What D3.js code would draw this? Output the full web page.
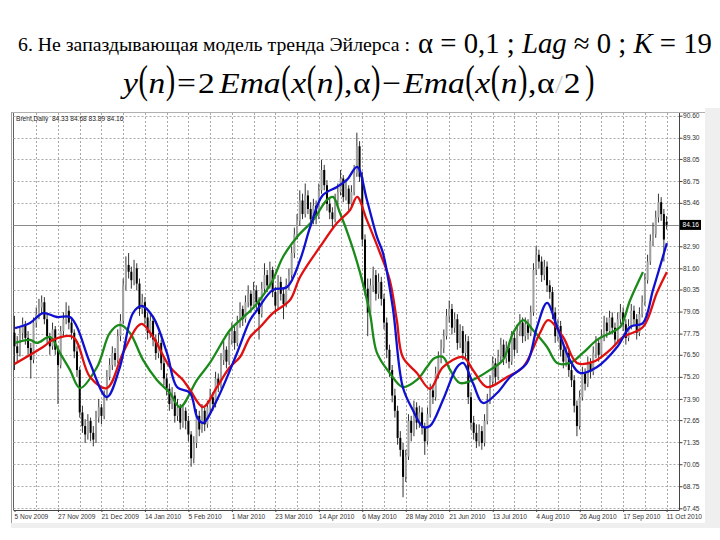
<!DOCTYPE html>
<html><head><meta charset="utf-8">
<script src="https://cdn.jsdelivr.net/npm/d3@7"></script>
<style>body{margin:0;background:#fff}svg{display:block}</style>
</head><body>
<svg id="c" width="720" height="540"></svg>
<script>
// ---------- DATA ----------
const chartLabel = "Brent,Daily  84.33 84.68 83.89 84.16";
const lastPrice = 84.16;
const priceTicks = [90.60, 89.30, 88.05, 86.75, 85.46, 82.90, 81.60, 80.35, 79.05, 77.75, 76.50, 75.20, 73.90, 72.65, 71.35, 70.05, 68.75, 67.45];
const dateLabels = ["5 Nov 2009","27 Nov 2009","21 Dec 2009","14 Jan 2010","5 Feb 2010","1 Mar 2010","23 Mar 2010","14 Apr 2010","6 May 2010","28 May 2010","21 Jun 2010","13 Jul 2010","4 Aug 2010","26 Aug 2010","17 Sep 2010","11 Oct 2010"];
const dateBars = [0,16,32,48,64,80,96,112,128,144,160,176,192,208,224,240];
// daily bars: [open, high, low, close]
const ohlc = [
[77.8,78.8,75.6,77.0],[77.0,77.6,76.1,76.6],[76.6,78.1,76.4,77.8],[77.8,78.7,77.4,78.3],[78.3,78.5,77.1,77.5],
[77.5,77.9,76.5,76.9],[76.9,77.2,75.1,76.2],[76.2,78.7,76.0,78.4],[78.4,79.3,78.1,78.9],[78.9,79.8,78.6,79.3],
[79.3,80.0,78.9,79.6],[79.6,79.9,78.3,78.6],[78.6,78.9,77.2,77.6],[77.6,77.8,76.5,77.0],[77.0,78.4,76.8,78.0],
[78.0,78.2,76.5,76.8],[76.8,77.0,73.6,75.9],[75.9,78.2,75.7,77.9],[77.9,79.0,77.6,78.6],[78.6,79.6,78.3,79.1],
[79.1,79.4,78.0,78.4],[78.4,78.7,77.4,77.8],[77.8,78.0,76.3,76.7],[76.7,77.0,75.2,75.6],[75.6,75.8,72.8,73.1],
[73.1,73.5,71.9,72.3],[72.3,72.7,71.3,71.8],[71.8,73.0,71.5,72.6],[72.6,72.8,71.4,71.9],[71.9,72.3,71.1,71.5],
[71.5,73.2,71.3,72.8],[72.8,73.9,72.5,73.4],[73.4,73.6,72.4,72.9],[72.9,74.4,72.7,74.0],[74.0,75.6,73.8,75.2],
[75.2,76.3,75.0,75.9],[75.9,77.0,75.6,76.6],[76.6,76.9,75.8,76.2],[76.2,78.0,76.0,77.6],[77.6,78.9,77.3,78.5],
[78.5,81.0,78.3,80.6],[80.6,82.3,80.3,81.8],[81.8,82.5,81.0,81.4],[81.4,81.7,80.4,80.9],[80.9,82.1,80.6,81.6],
[81.6,81.9,80.3,80.7],[80.7,81.0,78.8,79.2],[79.2,80.1,78.9,79.6],[79.6,79.9,78.3,78.7],[78.7,79.0,77.4,77.8],
[77.8,79.0,77.5,78.5],[78.5,78.8,77.0,77.4],[77.4,77.7,76.2,76.6],[76.6,77.8,76.3,77.2],[77.2,77.4,75.6,76.0],
[76.0,76.3,74.7,75.1],[75.1,75.4,74.1,74.5],[74.5,74.8,73.2,73.6],[73.6,74.6,73.3,74.1],[74.1,74.3,72.5,72.9],
[72.9,73.9,72.6,73.4],[73.4,73.6,72.1,72.5],[72.5,73.6,72.2,73.2],[73.2,73.4,72.1,72.6],[72.6,72.9,71.4,71.8],
[71.8,72.0,69.9,70.4],[70.4,71.7,70.1,71.3],[71.3,73.3,71.0,72.9],[72.9,73.2,71.7,72.1],[72.1,73.6,71.9,73.2],
[73.2,73.4,72.0,72.4],[72.4,73.8,72.2,73.4],[73.4,74.5,73.1,74.0],[74.0,74.3,73.2,73.6],[73.6,75.5,73.4,75.1],
[75.1,75.4,74.3,74.7],[74.7,76.6,74.5,76.2],[76.2,77.3,75.9,76.8],[76.8,77.0,75.7,76.1],[76.1,77.8,75.9,77.4],
[77.4,78.4,77.1,77.9],[77.9,78.2,76.8,77.2],[77.2,78.8,77.0,78.4],[78.4,79.6,78.1,79.2],[79.2,79.4,78.2,78.6],
[78.6,80.0,78.4,79.6],[79.6,80.6,79.3,80.1],[80.1,80.3,79.0,79.4],[79.4,80.8,79.2,80.3],[80.3,80.6,79.2,79.6],
[79.6,79.9,77.4,78.9],[78.9,80.8,78.7,80.4],[80.4,81.9,80.1,81.2],[81.2,81.5,80.2,80.6],[80.6,82.0,80.4,81.5],
[81.5,81.7,79.9,80.2],[80.2,80.5,78.9,79.4],[79.4,81.2,79.2,80.8],[80.8,81.1,79.7,80.1],[80.1,80.4,78.6,79.5],
[79.5,81.0,79.3,80.6],[80.6,81.6,80.3,81.2],[81.2,82.9,81.0,82.5],[82.5,84.0,82.2,83.6],[83.6,84.8,83.3,84.4],
[84.4,86.2,84.1,85.6],[85.6,86.0,84.5,84.8],[84.8,86.6,84.6,85.9],[85.9,86.2,84.8,85.1],[85.1,85.5,84.1,84.5],
[84.5,85.7,84.2,85.3],[85.3,85.6,84.2,84.7],[84.7,86.6,84.5,86.2],[86.2,88.0,86.0,87.4],[87.4,87.7,86.2,86.5],
[86.5,86.8,85.0,85.4],[85.4,85.7,84.5,84.9],[84.9,85.2,84.0,84.5],[84.5,86.0,84.3,85.6],[85.6,86.6,85.3,86.1],
[86.1,87.4,85.9,86.9],[86.9,87.1,85.5,85.8],[85.8,86.8,85.6,86.3],[86.3,86.5,85.0,85.4],[85.4,86.5,85.2,86.1],
[86.1,87.7,85.9,87.2],[87.2,89.6,87.0,88.8],[88.8,89.1,86.7,87.0],[87.0,87.3,82.9,83.3],[83.3,83.6,80.0,80.4],
[80.4,81.0,77.6,79.0],[79.0,81.0,78.8,80.6],[80.6,81.7,80.2,81.2],[81.2,81.5,79.7,80.1],[80.1,81.3,79.8,80.8],
[80.8,81.1,79.4,79.8],[79.8,80.1,78.0,78.4],[78.4,78.7,76.3,76.8],[76.8,77.1,75.2,75.6],[75.6,75.9,73.7,74.1],
[74.1,74.5,72.8,73.2],[73.2,73.5,71.2,71.6],[71.6,72.0,70.5,70.9],[70.9,71.3,68.1,69.3],[69.3,70.9,69.0,70.5],
[70.5,73.0,70.3,72.6],[72.6,72.9,71.4,71.9],[71.9,73.8,71.7,73.4],[73.4,73.7,72.1,72.5],[72.5,73.5,72.2,73.1],
[73.1,73.4,71.8,72.2],[72.2,72.5,70.6,71.4],[71.4,73.4,71.2,73.0],[73.0,74.8,72.8,74.4],[74.4,74.7,73.6,74.0],
[74.0,75.8,73.8,75.4],[75.4,76.7,75.1,76.3],[76.3,77.4,76.0,76.9],[76.9,78.0,76.6,77.6],[77.6,79.2,77.4,78.8],
[78.8,79.7,78.4,79.2],[79.2,79.5,77.7,78.1],[78.1,79.0,77.8,78.6],[78.6,78.9,76.8,77.2],[77.2,78.3,76.9,77.9],
[77.9,78.2,76.2,76.6],[76.6,77.7,76.3,77.3],[77.3,77.6,73.6,74.0],[74.0,74.3,72.1,72.5],[72.5,72.9,71.5,71.9],
[71.9,72.4,71.0,71.4],[71.4,72.4,71.1,72.0],[72.0,72.3,70.9,71.3],[71.3,73.0,71.1,72.6],[72.6,74.2,72.4,73.8],
[73.8,75.3,73.6,74.9],[74.9,76.4,74.7,76.0],[76.0,76.3,74.8,75.2],[75.2,76.8,75.0,76.4],[76.4,77.5,76.1,77.1],
[77.1,77.4,75.9,76.3],[76.3,77.3,76.0,76.9],[76.9,77.2,75.7,76.1],[76.1,77.9,75.9,77.5],[77.5,77.8,76.4,76.8],
[76.8,78.3,76.6,77.9],[77.9,78.9,77.6,78.4],[78.4,78.7,77.2,77.6],[77.6,78.7,77.3,78.3],[78.3,78.6,77.4,77.8],
[77.8,79.4,77.6,79.0],[79.0,81.9,78.8,81.5],[81.5,82.9,81.2,82.4],[82.4,82.7,81.6,82.0],[82.0,82.3,80.8,81.2],
[81.2,82.1,80.9,81.7],[81.7,82.0,80.2,80.6],[80.6,80.9,79.8,80.2],[80.2,80.5,78.6,79.0],[79.0,79.3,77.2,77.6],
[77.6,78.6,77.3,78.2],[78.2,78.5,76.4,76.8],[76.8,77.1,75.7,76.1],[76.1,77.0,75.8,76.6],[76.6,76.9,75.2,75.6],
[75.6,75.9,74.6,75.0],[75.0,75.3,73.1,73.5],[73.5,73.8,71.7,72.3],[72.3,74.4,72.1,74.0],[74.0,75.8,73.8,75.4],
[75.4,75.7,74.4,74.8],[74.8,76.4,74.6,76.0],[76.0,76.3,75.1,75.5],[75.5,77.0,75.3,76.6],[76.6,77.6,76.3,77.2],
[77.2,77.5,76.1,76.5],[76.5,78.0,76.3,77.6],[77.6,78.8,77.3,78.4],[78.4,78.7,77.5,77.9],[77.9,79.1,77.7,78.7],
[78.7,79.0,77.7,78.1],[78.1,78.4,77.0,77.4],[77.4,79.0,77.2,78.6],[78.6,79.5,78.3,79.0],[79.0,79.3,77.9,78.3],
[78.3,78.6,77.1,77.5],[77.5,78.6,77.3,78.2],[78.2,79.5,78.0,79.1],[79.1,79.4,78.2,78.6],[78.6,78.9,77.4,77.8],
[77.8,79.3,77.6,78.9],[78.9,80.0,78.7,79.6],[79.6,81.3,79.4,80.9],[80.9,82.4,80.7,82.0],[82.0,83.6,81.8,83.2],
[83.2,84.3,82.9,83.6],[83.6,85.0,83.4,84.6],[84.6,86.0,84.3,85.5],[85.5,85.8,84.4,84.8],[84.8,85.1,82.0,83.3],
[84.33,84.68,83.89,84.16]
];
// indicator lines: [bar index, value]
const redLine = [[0,75.96],[10.5,76.96],[14.2,77.38],[21.5,77.55],[27.8,75.19],[34,74.54],[39.9,76.61],[45.1,78.14],[46.9,78.32],[51,77.55],[57.2,75.78],[62,75.02],[64.6,74.43],[69.4,73.42],[74.5,74.60],[79.3,75.78],[83,76.37],[86.7,77.55],[90.4,78.14],[95.1,78.96],[101.4,79.73],[105.1,81.09],[112.4,82.86],[118.7,84.27],[123.5,85.04],[126.1,85.81],[129.7,84.44],[134.5,82.51],[138.1,80.91],[140.7,78.55],[142.9,76.37],[148.1,75.43],[152.9,74.50],[157.7,75.78],[165.1,76.37],[168.7,75.61],[173.9,74.60],[181.3,75.19],[187.2,75.78],[193.4,77.79],[196.4,78.55],[201.9,77.55],[207,76.02],[212.9,76.08],[219.2,76.79],[224,77.55],[231.3,78.14],[236.4,80.15],[240.1,81.38]];
const blueLine = [[0.2,78.08],[5.7,78.38],[10.5,78.96],[15.6,78.73],[20.4,78.73],[23,78.14],[27.8,76.02],[34,74.01],[38.8,75.78],[43.6,78.96],[46.9,79.38],[51,78.73],[56.1,76.61],[59.8,74.60],[64.6,74.25],[67.2,72.83],[69.4,72.48],[74.5,73.84],[81.9,76.61],[86.7,78.55],[89.3,79.14],[95.1,80.33],[100.3,80.50],[105.1,82.09],[108.8,84.03],[113.5,85.92],[118.7,86.40],[122.4,86.83],[126.1,87.58],[129.7,85.63],[133.4,83.45],[135.6,82.51],[139.2,79.32],[142.9,74.60],[146.6,73.25],[150.4,72.25],[152.9,72.30],[157.7,73.84],[162.9,75.78],[165.1,76.02],[168.7,74.84],[172.4,73.66],[177.6,74.25],[182.4,75.19],[188.6,76.02],[192.3,78.14],[196,79.56],[199.7,78.14],[204.4,76.20],[208.1,75.43],[214.4,75.78],[221.8,76.96],[226.6,78.14],[231.3,78.38],[235,80.33],[238.6,82.27],[240.1,83.09]];
const greenLine = [[0.2,77.20],[5.7,77.38],[8.3,77.20],[13.1,77.55],[16.7,76.61],[20.4,75.61],[24.1,74.54],[30.4,75.78],[35.1,77.79],[38.8,78.26],[42.5,77.79],[47.3,76.20],[52.4,75.02],[57.2,74.25],[60.9,73.42],[67.2,75.02],[71.9,76.02],[79.3,77.96],[83,78.55],[87.8,79.26],[92.9,80.33],[95.1,80.91],[98.8,82.27],[104,83.45],[109.9,84.44],[115,85.63],[117.2,85.81],[119.8,84.86],[123.5,83.27],[127.2,81.33],[130.8,78.96],[133.4,76.61],[138.1,75.43],[142.9,74.60],[148.1,75.02],[151.8,75.78],[154.5,76.30],[157.7,76.37],[160.3,75.61],[163.9,74.84],[168.7,75.02],[175,75.61],[179.8,76.20],[183.5,77.79],[187.2,78.55],[190.8,77.96],[196,76.96],[199.7,76.02],[204.4,76.02],[209.2,76.61],[214.4,77.38],[219.2,77.79],[222.9,78.14],[226.6,79.73],[231.3,81.38]];

// ---------- DRAW ----------
const SERIF = "'Liberation Serif', 'Times New Roman', serif";
const SANS = "'Liberation Sans', Arial, sans-serif";
const svg = d3.select("#c");
const plot = {left: 13.5, right: 679.5, top: 113, bottom: 510};
const x = d3.scaleLinear().domain([0, 240]).range([14.5, 666.6]);
const y = d3.scaleLinear().domain([67.45, 90.60]).range([508.3, 115.7]);

// title line 1
svg.append("text").attr("x", 18).attr("y", 51)
  .attr("font-family", SERIF).attr("font-size", 19)
  .attr("textLength", 392).attr("lengthAdjust", "spacingAndGlyphs")
  .text("6. Не запаздывающая модель тренда Эйлерса :");
const f1 = svg.append("text").attr("x", 418).attr("y", 53)
  .attr("font-family", SERIF).attr("font-size", 29)
  .attr("textLength", 294).attr("lengthAdjust", "spacingAndGlyphs");
[["α = 0,1 ; ",""],["Lag","italic"],[" ≈ 0 ; ",""],["K","italic"],[" = 19",""]].forEach(([s,st])=>{
  f1.append("tspan").attr("font-style", st||null).text(s);
});

// title line 2 (formula), laid out piece by piece
const pieces = [["y","i"],["(","p"],["n","i"],[")","p"],["=",""],["2",""],["Ema","i"],["(","p"],["x","i"],["(","p"],["n","i"],[")","p"],[",",""],["α",""],[")","p"],["−",""],["Ema","i"],["(","p"],["x","i"],["(","p"],["n","i"],[")","p"],[",",""],["α",""],["/","s"],["2",""],[")","p"]];
const gaps = {"=":3, "2":4, "−":3};
const g2 = svg.append("g");
let cx = 0;
pieces.forEach(([s, k]) => {
  const t = g2.append("text").attr("y", 93).attr("font-family", SERIF).text(s);
  let w;
  if (k === "p") {
    t.attr("font-size", 41).attr("transform", `translate(${cx},0) scale(0.62,1)`);
    w = t.node().getComputedTextLength() * 0.62;
  } else {
    t.attr("font-size", k === "s" ? 26 : 30).attr("x", cx);
    if (k === "i") t.attr("font-style", "italic");
    if (k === "s") t.attr("fill", "#c8c8c8");
    w = t.node().getComputedTextLength();
  }
  cx += w + (gaps[s] || 0.5);
  if (s === "=" || s === "−") { t.attr("x", cx - w - gaps[s] + 1); }
});
g2.attr("transform", `translate(123,0) scale(${472 / cx},1)`);

// chart window
svg.append("rect").attr("x", 705).attr("y", 108).attr("width", 15).attr("height", 420).attr("fill", "#efefef");
svg.append("rect").attr("x", 11).attr("y", 523).attr("width", 709).attr("height", 5).attr("fill", "#efefef");
svg.append("line").attr("x1", 11).attr("x2", 705).attr("y1", 112.5).attr("y2", 112.5).attr("stroke", "#b0b0b0");
svg.append("line").attr("x1", 11.5).attr("x2", 11.5).attr("y1", 112).attr("y2", 523).attr("stroke", "#a0a0a0");
svg.append("line").attr("x1", 13.5).attr("x2", 13.5).attr("y1", 113).attr("y2", plot.bottom).attr("stroke", "#606060");

// grid
const grid = svg.append("g").attr("stroke", "#a8a8a8").attr("stroke-dasharray", "2,2").attr("stroke-width", 1);
priceTicks.forEach(p => grid.append("line").attr("x1", plot.left).attr("x2", plot.right)
  .attr("y1", Math.round(y(p)) + 0.5).attr("y2", Math.round(y(p)) + 0.5));
d3.range(8, 241, 8).forEach(b => grid.append("line").attr("y1", plot.top).attr("y2", plot.bottom)
  .attr("x1", Math.round(x(b)) + 0.5).attr("x2", Math.round(x(b)) + 0.5));
// bid line
svg.append("line").attr("x1", plot.left).attr("x2", plot.right)
  .attr("y1", Math.round(y(lastPrice)) + 0.5).attr("y2", Math.round(y(lastPrice)) + 0.5)
  .attr("stroke", "#8a8a8a");

// candles
const bars = svg.append("g");
ohlc.forEach((d, i) => {
  const [o, h, l, c] = d;
  const bx = x(i);
  bars.append("line").attr("x1", bx).attr("x2", bx).attr("y1", y(h)).attr("y2", y(l))
    .attr("stroke", "#333").attr("stroke-width", 1);
  const top = y(Math.max(o, c)), bot = y(Math.min(o, c));
  bars.append("rect").attr("x", bx - 1).attr("width", 2)
    .attr("y", top).attr("height", Math.max(1, bot - top))
    .attr("fill", c >= o ? "#a0a0a0" : "#000");
});

// indicator lines
const lineGen = d3.line().x(d => x(d[0])).y(d => y(d[1])).curve(d3.curveCatmullRom.alpha(0.5));
[[greenLine, "#1b8a1b"], [redLine, "#e01010"], [blueLine, "#1010d0"]].forEach(([data, col]) => {
  svg.append("path").attr("d", lineGen(data)).attr("fill", "none")
    .attr("stroke", col).attr("stroke-width", 2.3).attr("stroke-linejoin", "round");
});

// chart label
svg.append("text").attr("x", 16).attr("y", 121).attr("font-family", SANS)
  .attr("font-size", 6.6).attr("fill", "#222").style("white-space", "pre").text(chartLabel);

// frame lines
svg.append("line").attr("x1", plot.right).attr("x2", plot.right).attr("y1", plot.top).attr("y2", plot.bottom).attr("stroke", "#444");
svg.append("line").attr("x1", plot.left).attr("x2", plot.right).attr("y1", plot.bottom + 0.5).attr("y2", plot.bottom + 0.5).attr("stroke", "#444");

// right price axis
const yAxis = d3.axisRight(y).tickValues(priceTicks).tickSize(3).tickFormat(d3.format(".2f"));
const ya = svg.append("g").attr("transform", `translate(${plot.right},0)`).call(yAxis);
ya.select(".domain").remove();
ya.selectAll("line").attr("stroke", "#444");
ya.selectAll("text").attr("font-family", SANS).attr("font-size", 6.6)
  .attr("fill", "#333").attr("x", 3.5);
// last price box
const by = y(lastPrice);
svg.append("rect").attr("x", 680).attr("y", by - 5).attr("width", 21).attr("height", 10).attr("fill", "#000");
svg.append("text").attr("x", 682.5).attr("y", by + 2.3).attr("font-family", SANS)
  .attr("font-size", 6.6).attr("fill", "#fff").text(d3.format(".2f")(lastPrice));

// bottom date axis
const xAxis = d3.axisBottom(x).tickValues(dateBars).tickSize(2).tickFormat((d, i) => dateLabels[i]);
const xa = svg.append("g").attr("transform", `translate(0,${plot.bottom})`).call(xAxis);
xa.select(".domain").remove();
xa.selectAll("line").attr("stroke", "#444");
xa.selectAll("text").attr("font-family", SANS).attr("font-size", 6.6)
  .attr("fill", "#333").attr("text-anchor", "start").attr("x", -0.5).attr("y", 4).attr("dy", "0.71em");
</script>
</body></html>
